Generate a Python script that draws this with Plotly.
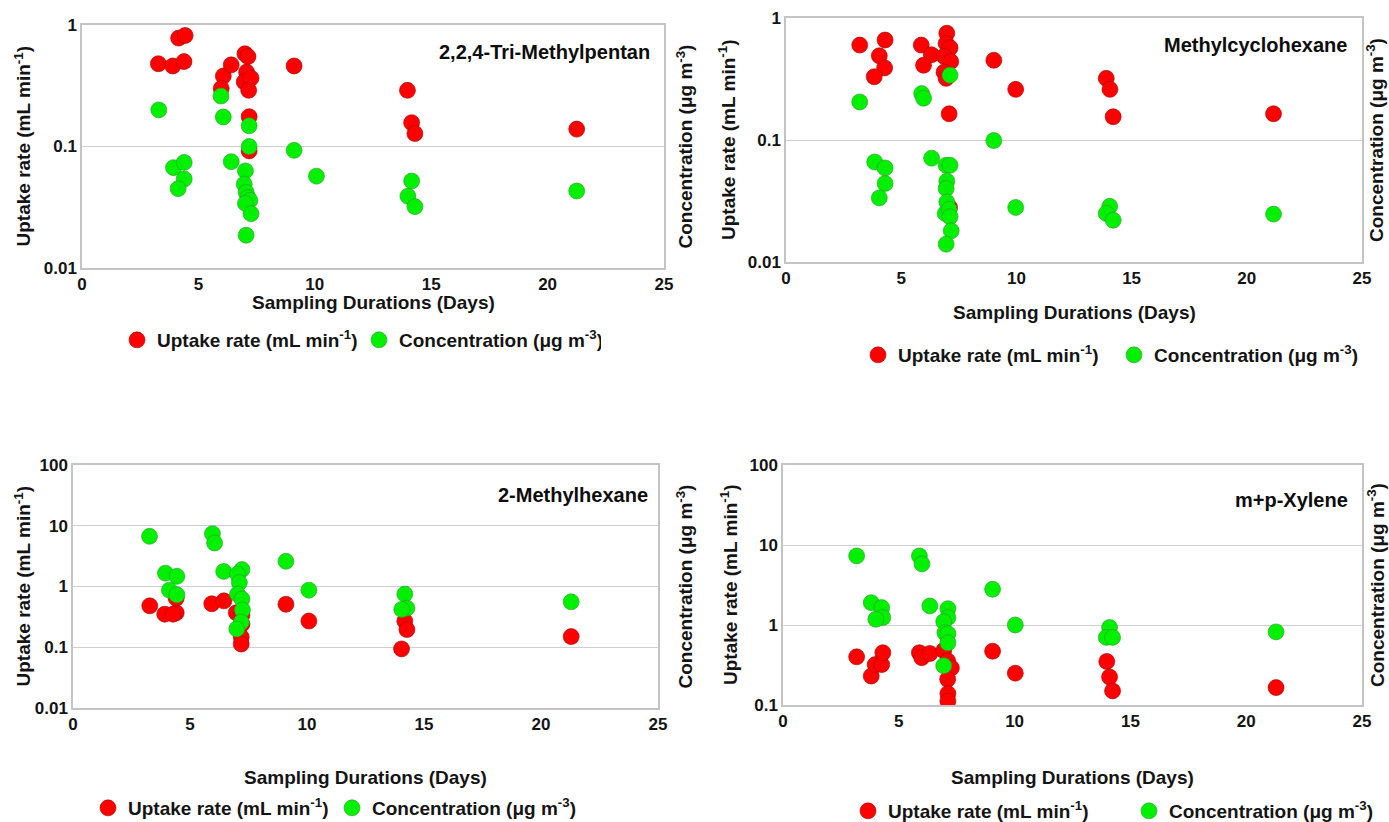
import plotly.graph_objects as go

W, H = 1389, 822

# ---------------- data ----------------
compounds = ["2,2,4-Tri-Methylpentan", "Methylcyclohexane", "2-Methylhexane", "m+p-Xylene"]

tmp_days_uptake = [3.28, 3.9, 4.15, 4.43, 4.38, 6.07, 5.98, 6.41, 7.0, 7.13, 7.07, 6.97, 7.26, 7.16, 7.18, 7.18, 9.11, 13.98, 14.16, 14.3, 21.25]
tmp_uptake = [0.48, 0.46, 0.78, 0.82, 0.50, 0.38, 0.30, 0.47, 0.58, 0.55, 0.41, 0.34, 0.365, 0.29, 0.176, 0.092, 0.46, 0.29, 0.157, 0.128, 0.139]
tmp_days_conc = [3.3, 5.97, 6.07, 7.18, 7.18, 9.11, 3.93, 4.39, 4.39, 4.13, 6.41, 7.02, 6.97, 7.05, 7.13, 7.21, 7.02, 7.26, 7.05, 10.07, 14.16, 14.0, 14.3, 21.25]
tmp_conc = [0.20, 0.26, 0.175, 0.148, 0.10, 0.093, 0.067, 0.074, 0.054, 0.045, 0.075, 0.063, 0.049, 0.042, 0.038, 0.036, 0.034, 0.028, 0.0186, 0.057, 0.052, 0.039, 0.032, 0.043]

mch_days_uptake = [3.2, 4.3, 4.05, 4.28, 3.83, 5.87, 6.31, 5.97, 6.98, 6.95, 7.12, 6.86, 7.15, 6.86, 6.95, 7.08, 7.1, 9.02, 9.97, 13.9, 14.06, 14.2, 21.16]
mch_uptake = [0.60, 0.66, 0.49, 0.39, 0.33, 0.60, 0.50, 0.41, 0.75, 0.62, 0.57, 0.485, 0.44, 0.36, 0.32, 0.164, 0.028, 0.45, 0.26, 0.32, 0.26, 0.155, 0.164]
mch_days_conc = [3.2, 5.89, 5.97, 7.12, 9.02, 3.85, 4.3, 4.3, 4.05, 6.32, 6.95, 7.12, 6.98, 6.95, 6.98, 6.91, 7.08, 7.12, 7.17, 6.95, 9.97, 14.05, 13.9, 14.2, 21.16]
mch_conc = [0.205, 0.24, 0.22, 0.34, 0.099, 0.066, 0.059, 0.044, 0.0335, 0.071, 0.062, 0.062, 0.046, 0.040, 0.031, 0.025, 0.027, 0.0235, 0.018, 0.014, 0.028, 0.0286, 0.025, 0.022, 0.0247]

mh_days_uptake = [3.28, 3.92, 4.41, 4.28, 4.41, 5.93, 6.45, 6.98, 7.22, 7.22, 7.19, 7.19, 9.1, 10.08, 14.18, 14.27, 14.04, 21.29]
mh_uptake = [0.48, 0.35, 0.37, 0.35, 0.64, 0.52, 0.58, 0.37, 0.34, 0.24, 0.147, 0.113, 0.51, 0.27, 0.27, 0.196, 0.094, 0.15]
mh_days_conc = [3.27, 5.96, 6.05, 9.1, 3.95, 4.44, 4.12, 4.44, 6.44, 7.22, 7.03, 7.11, 7.03, 7.22, 7.24, 7.19, 7.0, 10.08, 14.18, 14.27, 14.05, 21.29]
mh_conc = [6.7, 7.4, 5.2, 2.6, 1.66, 1.47, 0.87, 0.73, 1.77, 1.9, 1.6, 1.16, 0.75, 0.62, 0.41, 0.26, 0.20, 0.87, 0.75, 0.44, 0.42, 0.56]

xyl_days_uptake = [3.18, 3.81, 3.98, 4.26, 4.31, 5.89, 5.99, 6.34, 6.94, 7.11, 7.27, 7.11, 7.12, 7.12, 9.05, 10.03, 13.98, 14.1, 14.23, 21.29]
xyl_uptake = [0.40, 0.23, 0.32, 0.32, 0.45, 0.45, 0.39, 0.44, 0.48, 0.355, 0.29, 0.21, 0.139, 0.112, 0.47, 0.25, 0.35, 0.224, 0.15, 0.165]
xyl_days_conc = [3.18, 5.89, 6.0, 9.05, 3.81, 4.26, 4.31, 4.01, 6.34, 7.12, 7.12, 6.94, 6.99, 7.12, 7.12, 6.94, 10.03, 14.1, 13.96, 14.23, 21.29]
xyl_conc = [7.3, 7.3, 5.8, 2.8, 1.9, 1.65, 1.24, 1.18, 1.73, 1.6, 1.24, 1.1, 0.80, 0.78, 0.60, 0.31, 1.0, 0.93, 0.70, 0.70, 0.82]

x_ticks = [0, 5, 10, 15, 20, 25]
y_ticks_top = [0.01, 0.1, 1]
y_ticks_top_text = ["0.01", "0.1", "1"]
y_ticks_mh = [0.01, 0.1, 1, 10, 100]
y_ticks_mh_text = ["0.01", "0.1", "1", "10", "100"]
y_ticks_xyl = [0.1, 1, 10, 100]
y_ticks_xyl_text = ["0.1", "1", "10", "100"]

uptake_label = "Uptake rate (mL min<sup>-1</sup>)"
conc_label = "Concentration (\u03bcg m<sup>-3</sup>)"
x_label = "Sampling Durations (Days)"

# ---------------- layout geometry (pixels) ----------------
panels = [
    dict(name=compounds[0], xu=tmp_days_uptake, yu=tmp_uptake, xc=tmp_days_conc, yc=tmp_conc,
         box=(82, 664, 25, 268), yr=(-2, 0), yt=y_ticks_top, ytt=y_ticks_top_text,
         lab=(652, 52), ltitle=22, rtitle=684, xtitle_y=303,
         leg=(117, 340), entry=197),
    dict(name=compounds[1], xu=mch_days_uptake, yu=mch_uptake, xc=mch_days_conc, yc=mch_conc,
         box=(786, 1362, 18, 262), yr=(-2, 0), yt=y_ticks_top, ytt=y_ticks_top_text,
         lab=(1349, 45), ltitle=727, rtitle=1375, xtitle_y=312,
         leg=(858, 355), entry=211),
    dict(name=compounds[2], xu=mh_days_uptake, yu=mh_uptake, xc=mh_days_conc, yc=mh_conc,
         box=(73, 658, 465, 708), yr=(-2, 2), yt=y_ticks_mh, ytt=y_ticks_mh_text,
         lab=(650, 495), ltitle=22, rtitle=684, xtitle_y=777,
         leg=(88, 808), entry=199),
    dict(name=compounds[3], xu=xyl_days_uptake, yu=xyl_uptake, xc=xyl_days_conc, yc=xyl_conc,
         box=(783, 1362, 465, 705), yr=(-1, 2), yt=y_ticks_xyl, ytt=y_ticks_xyl_text,
         lab=(1350, 500), ltitle=729, rtitle=1376, xtitle_y=777,
         leg=(848, 811), entry=236),
]

FONT = "Liberation Sans, Arial, sans-serif"
RED = "#ff0000"
GREEN = "#00f000"
TXT = "#141414"

fig = go.Figure()
layout = dict(
    width=W, height=H, margin=dict(l=0, r=0, t=0, b=0, autoexpand=False),
    paper_bgcolor="white", plot_bgcolor="white",
    font=dict(family=FONT, size=17, color=TXT),
    annotations=[], showlegend=True,
)

def px_x(x):
    return x / W

def px_y(y):
    return 1 - y / H

for i, p in enumerate(panels, start=1):
    sfx = "" if i == 1 else str(i)
    xa = "x" + sfx
    ya = "y" + sfx
    leg = "legend" + sfx
    x0, x1, y0, y1 = p["box"]
    layout["xaxis" + sfx] = dict(
        domain=[px_x(x0), px_x(x1)], range=[0, 25], anchor=ya,
        tickvals=x_ticks, showgrid=False, zeroline=False,
        showline=True, linecolor="#c4c4c4", linewidth=1.5, mirror=True,
        ticks="", tickfont=dict(size=17, family=FONT, weight="bold", color=TXT),
    )
    layout["yaxis" + sfx] = dict(
        domain=[px_y(y1), px_y(y0)], type="log", range=list(p["yr"]), anchor=xa,
        tickvals=p["yt"], ticktext=p["ytt"], showgrid=True, gridcolor="#cfcfcf", gridwidth=1.2,
        zeroline=False, showline=True, linecolor="#c4c4c4", linewidth=1.5, mirror=True,
        ticks="", tickfont=dict(size=17, family=FONT, weight="bold", color=TXT),
    )
    layout[leg] = dict(
        x=px_x(p["leg"][0]), y=px_y(p["leg"][1]), xanchor="left", yanchor="middle",
        orientation="h", entrywidth=p["entry"], entrywidthmode="pixels",
        bgcolor="rgba(0,0,0,0)", font=dict(size=19, family=FONT, weight="bold", color=TXT),
        itemwidth=30, tracegroupgap=0,
    )
    fig.add_trace(go.Scatter(
        x=p["xu"], y=p["yu"], mode="markers", name=uptake_label, xaxis=xa, yaxis=ya,
        legend=leg, marker=dict(color=RED, size=16, line=dict(color="#a00000", width=0.6)),
    ))
    fig.add_trace(go.Scatter(
        x=p["xc"], y=p["yc"], mode="markers", name=conc_label, xaxis=xa, yaxis=ya,
        legend=leg, marker=dict(color=GREEN, size=16, line=dict(color="#2f9a2f", width=0.6)),
    ))
    cy = (y0 + y1) / 2
    ann = layout["annotations"]
    ann.append(dict(text=p["name"], x=px_x(p["lab"][0]), y=px_y(p["lab"][1]), xref="paper", yref="paper",
                    xanchor="right", yanchor="middle", showarrow=False,
                    font=dict(size=20, family=FONT, weight="bold", color="#0d0d0d")))
    ann.append(dict(text=uptake_label, x=px_x(p["ltitle"]), y=px_y(cy), xref="paper", yref="paper",
                    xanchor="center", yanchor="middle", textangle=-90, showarrow=False,
                    font=dict(size=19, family=FONT, weight="bold", color=TXT)))
    ann.append(dict(text=conc_label, x=px_x(p["rtitle"]), y=px_y(cy), xref="paper", yref="paper",
                    xanchor="center", yanchor="middle", textangle=-90, showarrow=False,
                    font=dict(size=19, family=FONT, weight="bold", color=TXT)))
    ann.append(dict(text=x_label, x=px_x((x0 + x1) / 2), y=px_y(p["xtitle_y"]), xref="paper", yref="paper",
                    xanchor="center", yanchor="middle", showarrow=False,
                    font=dict(size=19, family=FONT, weight="bold", color=TXT)))

fig.update_layout(**layout)
fig.write_html("out.html")
